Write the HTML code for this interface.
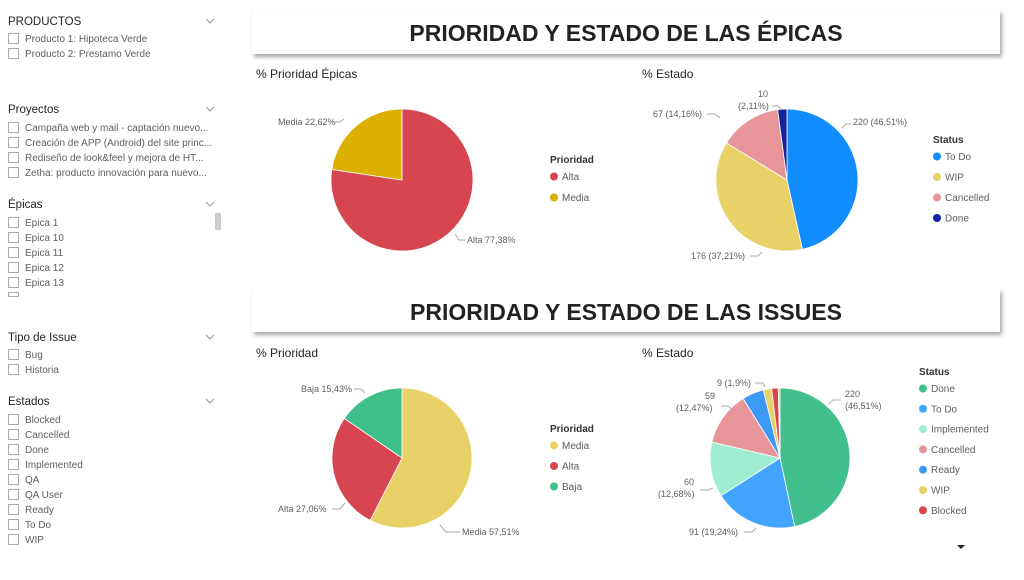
<!DOCTYPE html>
<html><head><meta charset="utf-8"><style>
body{margin:0;width:1024px;height:575px;background:#fff;overflow:hidden;font-family:"Liberation Sans",sans-serif}
svg text{font-family:"Liberation Sans",sans-serif}
</style></head><body>
<svg id="s" width="1024" height="575" xmlns="http://www.w3.org/2000/svg">
<defs><filter id="sh" x="-5%" y="-20%" width="110%" height="160%"><feDropShadow dx="2" dy="3" stdDeviation="2" flood-color="#000" flood-opacity="0.35"/></filter></defs>
<g font-size="11" fill="#252423">
<text x="8" y="25" font-size="11.5">PRODUCTOS</text>
<text x="8" y="113" font-size="11.5">Proyectos</text>
<text x="8" y="208" font-size="11.5">Épicas</text>
<text x="8" y="341" font-size="11.5">Tipo de Issue</text>
<text x="8" y="405" font-size="11.5">Estados</text>
</g>
<g fill="none" stroke="#999" stroke-width="1">
<path d="M206 19 l4 4 l4 -4"/><path d="M206 107 l4 4 l4 -4"/><path d="M206 202 l4 4 l4 -4"/><path d="M206 335 l4 4 l4 -4"/><path d="M206 399 l4 4 l4 -4"/>
</g>
<rect x="215" y="213" width="6" height="17" fill="#ccc"/>
<g id="items" font-size="10" fill="#605e5c"></g>
<rect x="252" y="10" width="748" height="44" fill="#fff" filter="url(#sh)"/>
<text x="626" y="41" text-anchor="middle" font-size="23" font-weight="bold" fill="#222">PRIORIDAD Y ESTADO DE LAS ÉPICAS</text>
<rect x="252" y="289" width="748" height="43" fill="#fff" filter="url(#sh)"/>
<text x="626" y="320" text-anchor="middle" font-size="23" font-weight="bold" fill="#222">PRIORIDAD Y ESTADO DE LAS ISSUES</text>
<g font-size="12" fill="#252423">
<text x="256" y="78">% Prioridad Épicas</text>
<text x="642" y="78">% Estado</text>
<text x="256" y="357">% Prioridad</text>
<text x="642" y="357">% Estado</text>
</g>
<g id="pies"></g>
<g font-size="9" fill="#605e5c" id="lbl">
<text x="278" y="125">Media 22,62%</text><path d="M332 122 h8 l4 -3" stroke="#aaa" fill="none"/>
<text x="467" y="243">Alta 77,38%</text><path d="M455 234 l4 6 h6" stroke="#aaa" fill="none"/>
<text x="853" y="125">220 (46,51%)</text><path d="M842 128 l4 -4 h5" stroke="#aaa" fill="none"/>
<text x="653" y="117">67 (14,16%)</text><path d="M707 114 h8 l5 4" stroke="#aaa" fill="none"/>
<text x="758" y="97">10</text><text x="738" y="109">(2,11%)</text><path d="M772 106 h6 l3 3" stroke="#aaa" fill="none"/>
<text x="691" y="259">176 (37,21%)</text><path d="M750 256 h8 l4 -4" stroke="#aaa" fill="none"/>
<text x="301" y="392">Baja 15,43%</text><path d="M354 389 h7 l4 4" stroke="#aaa" fill="none"/>
<text x="278" y="512">Alta 27,06%</text><path d="M332 509 h8 l5 -6" stroke="#aaa" fill="none"/>
<text x="462" y="535">Media 57,51%</text><path d="M440 525 l6 7 h14" stroke="#aaa" fill="none"/>
<text x="845" y="397">220</text><text x="845" y="409">(46,51%)</text><path d="M828 404 l5 -4 h8" stroke="#aaa" fill="none"/>
<text x="717" y="386">9 (1,9%)</text><path d="M755 383 h8 l2 4" stroke="#aaa" fill="none"/>
<text x="705" y="399">59</text><text x="676" y="411">(12,47%)</text><path d="M721 406 h7 l5 4" stroke="#aaa" fill="none"/>
<text x="684" y="485">60</text><text x="658" y="497">(12,68%)</text><path d="M700 490 h8 l5 -2" stroke="#aaa" fill="none"/>
<text x="689" y="535">91 (19,24%)</text><path d="M744 532 h8 l4 -4" stroke="#aaa" fill="none"/>
</g>
<g id="leg" font-size="10" fill="#605e5c"></g>
<path d="M957 545 h8 l-4 4z" fill="#222"/>
</svg>
<script>
const NS="http://www.w3.org/2000/svg";
function el(p,t,a,txt){const e=document.createElementNS(NS,t);for(const k in a)e.setAttribute(k,a[k]);if(txt!=null)e.textContent=txt;p.appendChild(e);return e;}
const it=document.getElementById('items');
const groups=[[38,["Producto 1: Hipoteca Verde","Producto 2: Prestamo Verde"]],
[127,["Campaña web y mail - captación nuevo...","Creación de APP (Android) del site princ...","Rediseño de look&feel y mejora de HT...","Zetha: producto innovación para nuevo..."]],
[222,["Epica 1","Epica 10","Epica 11","Epica 12","Epica 13"]],
[354,["Bug","Historia"]],
[419,["Blocked","Cancelled","Done","Implemented","QA","QA User","Ready","To Do","WIP"]]];
groups.forEach(([y0,arr])=>arr.forEach((t,i)=>{const y=y0+i*15;el(it,'rect',{x:8.5,y:y-4.5,width:10,height:10,fill:'#fff',stroke:'#aaa'});el(it,'text',{x:25,y:y+4},t);}));
el(it,'rect',{x:8.5,y:292.5,width:10,height:4,fill:'none',stroke:'#aaa'});
el(it,'text',{x:25,y:300,'clip-path':'none'},'');
const pies=document.getElementById('pies');
function pie(cx,cy,r,data){let a=0;const tot=data.reduce((s,d)=>s+d[0],0);data.forEach(([v,c])=>{const a2=a+v/tot*2*Math.PI;const x1=cx+r*Math.sin(a),y1=cy-r*Math.cos(a),x2=cx+r*Math.sin(a2),y2=cy-r*Math.cos(a2);const lg=(a2-a)>Math.PI?1:0;el(pies,'path',{d:`M${cx} ${cy}L${x1} ${y1}A${r} ${r} 0 ${lg} 1 ${x2} ${y2}Z`,fill:c,stroke:'#fff','stroke-width':0.8});a=a2;});}
pie(402,180,71,[[77.38,'#d64550'],[22.62,'#dcb000']]);
pie(787,180,71,[[46.51,'#118dff'],[37.21,'#e8d166'],[14.16,'#e8959a'],[2.11,'#12239e']]);
pie(402,458,70,[[57.51,'#e8d166'],[27.06,'#d64550'],[15.43,'#3fbf8a']]);
pie(780,458,70,[[46.51,'#41bf8c'],[19.24,'#41a4ff'],[12.68,'#a0ecd1'],[12.47,'#e8959a'],[5.0,'#3c99f5'],[1.9,'#e8d166'],[1.5,'#d64550'],[0.4,'#f0c060']]);
const lg=document.getElementById('leg');
function legend(x,y,title,items,dy){el(lg,'text',{x:x,y:y,'font-weight':'bold',fill:'#333'},title);items.forEach(([t,c],i)=>{const yy=y+17+i*dy;el(lg,'circle',{cx:x+4,cy:yy-3.5,r:4,fill:c});el(lg,'text',{x:x+12,y:yy},t);});}
legend(550,163,'Prioridad',[['Alta','#d64550'],['Media','#dcb000']],21);
legend(933,143,'Status',[['To Do','#118dff'],['WIP','#e8d166'],['Cancelled','#e8959a'],['Done','#12239e']],20.5);
legend(550,432,'Prioridad',[['Media','#e8d166'],['Alta','#d64550'],['Baja','#3fbf8a']],20.5);
legend(919,375,'Status',[['Done','#41bf8c'],['To Do','#41a4ff'],['Implemented','#a0ecd1'],['Cancelled','#e8959a'],['Ready','#3c99f5'],['WIP','#e8d166'],['Blocked','#d64550']],20.3);
</script>
</body></html>
